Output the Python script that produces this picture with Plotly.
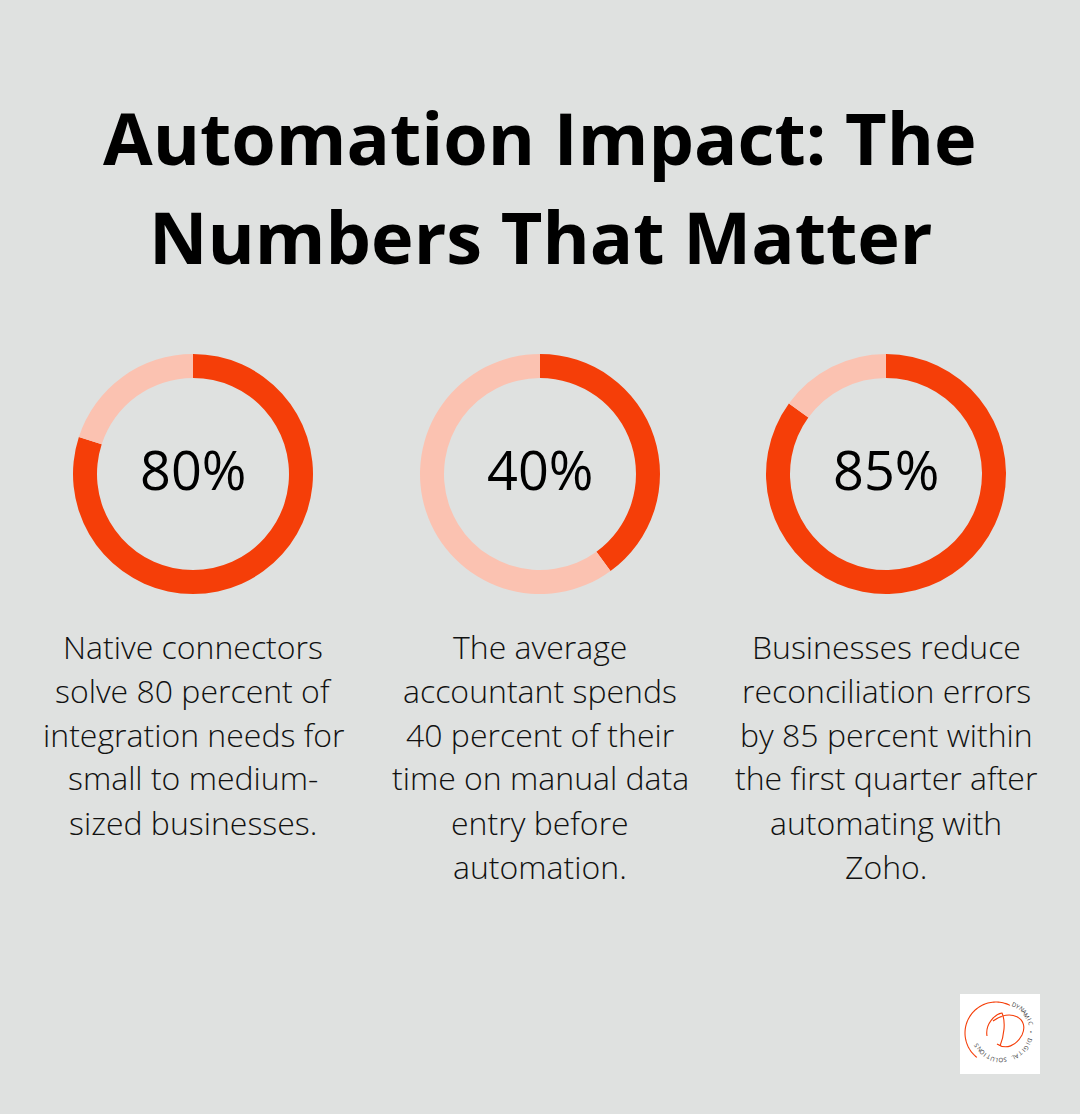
import math
import plotly.graph_objects as go

W, H = 1080, 1114
BG = "#DFE1E0"
ORANGE = "#F53E08"
LIGHT = "#FBC2B1"

title_lines = ["Automation Impact: The", "Numbers That Matter"]
percents = [80, 40, 85]
pct_labels = ["80%", "40%", "85%"]
descriptions = [
    ["Native connectors", "solve 80 percent of", "integration needs for",
     "small to medium-", "sized businesses."],
    ["The average", "accountant spends", "40 percent of their",
     "time on manual data", "entry before", "automation."],
    ["Businesses reduce", "reconciliation errors", "by 85 percent within",
     "the first quarter after", "automating with", "Zoho."],
]

centers_x = [193, 540, 886]
center_y = 474
R = 120

fig = go.Figure()

def px(x):
    return x / W

def py(y):
    return 1 - y / H

for cx, p in zip(centers_x, percents):
    fig.add_trace(go.Pie(
        values=[p, 100 - p],
        marker=dict(colors=[ORANGE, LIGHT], line=dict(width=0)),
        hole=0.8,
        sort=False,
        direction="clockwise",
        rotation=0,
        textinfo="none",
        hoverinfo="skip",
        domain=dict(x=[px(cx - R), px(cx + R)], y=[py(center_y + R), py(center_y - R)]),
    ))

annotations = []
title_y = [137, 236]
for line, ty in zip(title_lines, title_y):
    annotations.append(dict(
        text=f"<b>{line}</b>", x=0.5, y=py(ty), xref="paper", yref="paper",
        showarrow=False, xanchor="center", yanchor="middle",
        font=dict(family="Open Sans", size=72, color="#000000"),
    ))

for cx, lab in zip(centers_x, pct_labels):
    annotations.append(dict(
        text=lab, x=px(cx), y=py(469), xref="paper", yref="paper",
        showarrow=False, xanchor="center", yanchor="middle",
        font=dict(family="Open Sans", size=54, color="#000000", weight=500),
    ))

line_y0 = 646
line_step = 44
for cx, lines in zip(centers_x, descriptions):
    for i, line in enumerate(lines):
        annotations.append(dict(
            text=line, x=px(cx), y=py(line_y0 + i * line_step), xref="paper", yref="paper",
            showarrow=False, xanchor="center", yanchor="middle",
            font=dict(family="Open Sans", size=32, color="#111111", weight=300),
        ))

# Logo (decoration)
shapes = [dict(type="rect", xref="paper", yref="paper",
               x0=px(960), x1=px(1040), y0=py(1074), y1=py(994),
               fillcolor="white", line=dict(width=0), layer="below")]

lcx, lcy, lr = 996, 1033, 31
arc_pts = []
for k in range(0, 61):
    a = math.radians(218 + k * (169 / 60))
    x = lcx + lr * math.sin(a)
    y = lcy - lr * math.cos(a)
    arc_pts.append((px(x), py(y)))
path = "M " + " L ".join(f"{x:.5f},{y:.5f}" for x, y in arc_pts)
shapes.append(dict(type="path", xref="paper", yref="paper", path=path,
                   line=dict(color=ORANGE, width=1.1)))

def pt(x, y):
    return f"{px(x):.5f},{py(y):.5f}"

d1 = (f"M {pt(987,1036)} C {pt(985,1024)} {pt(995,1014)} {pt(1002,1013)} "
      f"C {pt(1006,1022)} {pt(1004,1036)} {pt(1000,1046)}")
d2 = (f"M {pt(993,1021)} C {pt(1010,1008)} {pt(1030,1018)} {pt(1022,1035)} "
      f"C {pt(1016,1046)} {pt(1006,1050)} {pt(997,1044)}")
for d in (d1, d2):
    shapes.append(dict(type="path", xref="paper", yref="paper", path=d,
                       line=dict(color=ORANGE, width=1.1)))

ring_text = "DYNAMIC • DIGITAL SOLUTIONS"
tcx, tcy, tr = 1002, 1031, 29
start, step = 25, 8.3
for i, ch in enumerate(ring_text):
    if ch == " ":
        continue
    th = start + i * step
    a = math.radians(th)
    x = tcx + tr * math.sin(a)
    y = tcy - tr * math.cos(a)
    annotations.append(dict(
        text=ch, x=px(x), y=py(y), xref="paper", yref="paper", showarrow=False,
        xanchor="center", yanchor="middle", textangle=th,
        font=dict(family="Open Sans", size=6, color="#333333"),
    ))

fig.update_layout(
    width=W, height=H,
    margin=dict(l=0, r=0, t=0, b=0),
    paper_bgcolor=BG, plot_bgcolor=BG,
    showlegend=False,
    annotations=annotations,
    shapes=shapes,
)

fig.write_html(
    "out.html",
    config={"displayModeBar": False},
    post_script="document.body.style.margin='0';document.body.style.background='#DFE1E0';",
)
